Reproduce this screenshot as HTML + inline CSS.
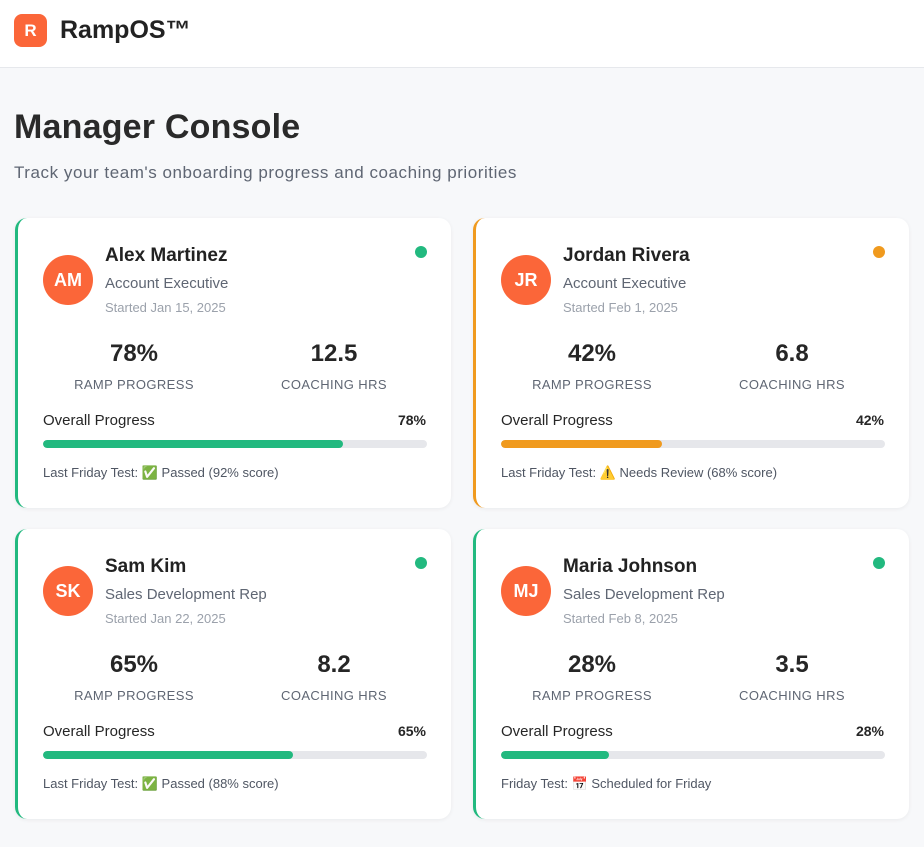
<!DOCTYPE html>
<html><head><meta charset="utf-8"><style>
*{box-sizing:border-box;margin:0;padding:0}
body{width:924px;height:847px;background:#f7f8fa;font-family:"Liberation Sans","Noto Sans CJK JP",sans-serif;color:#262626;overflow:hidden;position:relative}
.hdr{position:absolute;left:0;top:0;width:924px;height:68px;background:#fff;border-bottom:1px solid #e6e8ec}
.logo{position:absolute;left:14px;top:14px;width:33px;height:33px;border-radius:8px;background:#fb6639;color:#fff;font-weight:bold;font-size:17px;text-align:center;line-height:33px}
.brand{position:absolute;left:60px;top:16px;font-size:25px;font-weight:bold;color:#222}
h1{position:absolute;left:14px;top:108px;font-size:34px;font-weight:bold;color:#2a2a2a;letter-spacing:0.2px}
.sub{position:absolute;left:14px;top:163px;font-size:17px;color:#5f6673;letter-spacing:0.55px}
.card{position:absolute;width:436px;height:290px;background:#fff;border-radius:12px;border-left:3px solid #22b97f;box-shadow:0 1px 4px rgba(0,0,0,.06)}
.card.warn{border-left-color:#f09a1e}
.av{position:absolute;left:25px;top:37px;width:50px;height:50px;border-radius:50%;background:#fb6639;color:#fff;font-weight:bold;font-size:18px;text-align:center;line-height:50px}
.nm{position:absolute;left:87px;top:27px;font-size:19px;font-weight:bold;color:#222}
.role{position:absolute;left:87px;top:57px;font-size:15px;color:#5f6673}
.st{position:absolute;left:87px;top:82px;font-size:13px;color:#9ba1ab}
.dot{position:absolute;left:397px;top:28px;width:12px;height:12px;border-radius:50%;background:#22b97f}
.dot.o{background:#f09a1e}
.stat{position:absolute;top:122px;width:200px;text-align:center}
.stat b{display:block;font-size:24px;color:#262626}
.stat span{display:block;margin-top:9px;font-size:13px;color:#5f6673;letter-spacing:0.4px}
.op{position:absolute;left:25px;top:194px;font-size:15px;color:#262626}
.opv{position:absolute;right:25px;top:194px;font-size:14px;font-weight:bold;color:#262626}
.bar{position:absolute;left:25px;top:222px;width:384px;height:8px;border-radius:4px;background:#e6e7eb;overflow:hidden}
.fill{height:8px;border-radius:4px;background:#22b97f}
.fill.o{background:#f09a1e}
.test{position:absolute;left:25px;top:247px;font-size:13px;color:#4f5663}
</style></head><body>
<div class="hdr">
<div class="logo">R</div>
<div class="brand">RampOS™</div>
</div>
<h1>Manager Console</h1>
<div class="sub">Track your team's onboarding progress and coaching priorities</div>

<div class="card" style="left:15px;top:218px">
<div class="av">AM</div>
<div class="nm">Alex Martinez</div>
<div class="role">Account Executive</div>
<div class="st">Started Jan 15, 2025</div>
<div class="dot"></div>
<div class="stat" style="left:16px"><b>78%</b><span>RAMP PROGRESS</span></div>
<div class="stat" style="left:216px"><b>12.5</b><span>COACHING HRS</span></div>
<div class="op">Overall Progress</div>
<div class="opv">78%</div>
<div class="bar"><div class="fill" style="width:78%"></div></div>
<div class="test">Last Friday Test: ✅ Passed (92% score)</div>
</div>

<div class="card warn" style="left:473px;top:218px">
<div class="av">JR</div>
<div class="nm">Jordan Rivera</div>
<div class="role">Account Executive</div>
<div class="st">Started Feb 1, 2025</div>
<div class="dot o"></div>
<div class="stat" style="left:16px"><b>42%</b><span>RAMP PROGRESS</span></div>
<div class="stat" style="left:216px"><b>6.8</b><span>COACHING HRS</span></div>
<div class="op">Overall Progress</div>
<div class="opv">42%</div>
<div class="bar"><div class="fill o" style="width:42%"></div></div>
<div class="test">Last Friday Test: ⚠️ Needs Review (68% score)</div>
</div>

<div class="card" style="left:15px;top:529px">
<div class="av">SK</div>
<div class="nm">Sam Kim</div>
<div class="role">Sales Development Rep</div>
<div class="st">Started Jan 22, 2025</div>
<div class="dot"></div>
<div class="stat" style="left:16px"><b>65%</b><span>RAMP PROGRESS</span></div>
<div class="stat" style="left:216px"><b>8.2</b><span>COACHING HRS</span></div>
<div class="op">Overall Progress</div>
<div class="opv">65%</div>
<div class="bar"><div class="fill" style="width:65%"></div></div>
<div class="test">Last Friday Test: ✅ Passed (88% score)</div>
</div>

<div class="card" style="left:473px;top:529px">
<div class="av">MJ</div>
<div class="nm">Maria Johnson</div>
<div class="role">Sales Development Rep</div>
<div class="st">Started Feb 8, 2025</div>
<div class="dot"></div>
<div class="stat" style="left:16px"><b>28%</b><span>RAMP PROGRESS</span></div>
<div class="stat" style="left:216px"><b>3.5</b><span>COACHING HRS</span></div>
<div class="op">Overall Progress</div>
<div class="opv">28%</div>
<div class="bar"><div class="fill" style="width:28%"></div></div>
<div class="test">Friday Test: 📅 Scheduled for Friday</div>
</div>
</body></html>
